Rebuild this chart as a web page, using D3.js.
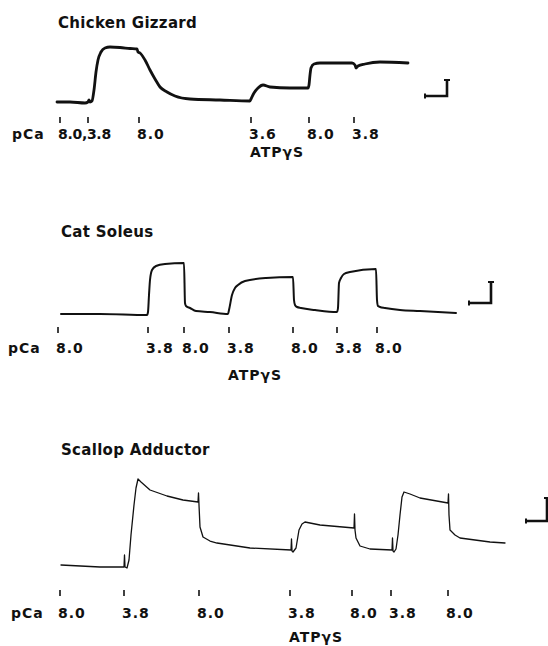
<!DOCTYPE html>
<html>
<head>
    <script type="text/javascript" src="https://cdnjs.cloudflare.com/ajax/libs/d3/7.8.5/d3.min.js"></script>
    <style>
    body {
        padding: 0;
        margin: 0;
        background: #fff;
    }
    #viz {
        width: 548px;
        height: 646px;
    }
    text {
        font-family: "DejaVu Sans", sans-serif;
        fill: #111;
    }
    .title {
        font-weight: bold;
        font-size: 15px;
        letter-spacing: 0.3px;
    }
    .lab {
        font-weight: bold;
        font-size: 14px;
        letter-spacing: 1px;
    }
  </style>
</head>
<body>
    <div id="viz"></div>
    <script type="text/javascript">

    // Tension traces (time and tension in arbitrary units)
    var gizzardTime = [0,13,28,31,32,33,35,37,39,41,44,48,53,63,73,80,81,83,88,93,98,103,110,118,133,163,193,194,197,201,206,213,233,251,252,253,254,257,263,283,295,298,299,301,308,323,351];
    var gizzardTension = [1,1,0,1,3,1,2,13,31,43,51,55,56,55.5,54.5,54,51,50,43,33,24,16,11,7,4,3,2,4,10,15,18,16,15,15,18,28,35,39,40,40,40,38,35,37,39,41,40];

    var soleusTime = [4,43,90,91,92,93,95,99,108,127,128,129,133,139,153,171,172,175,178,181,188,209,236,237,238,240,244,258,280,281,282,284,287,293,319,320,321,323,328,343,363,399];
    var soleusTension = [0,0,-1,2,19,34,44,48,50,51,11,8,6,3,2,0,4,19,26,29,33,36,37,14,9,7,6,4,2,6,31,36,40,42,45,14,8,7,6,4,3,1];

    var scallopTime = [4,43,66,67,67.5,68,70,72,74,77,79,81,84,93,110,126,141,141.5,142,143,146,153,160,193,
      234,234.5,235,236,239,242,245,248,263,297,297.5,298,299,303,313,
      335,335.5,336,337,339,341,343,345,347,353,363,391,
      391.5,392,393,398,403,433,448];
    var scallopTension = [3,1,1,1,13,1,0,8,33,63,80,89,86,78,72,68,66,75,63,41,31,27,25,20,
      18,29,17,16,20,38,44,46,43,40,54,38,30,22,19,
      18,30,17,16,19,33,53,71,76,74,70,65,
      74,53,38,33,30,26,25];

    // Solution changes (time of each change and its label)
    var gizzardTicks = [3,31,82,194,252,297];
    var gizzardLabels = ["8.0,3.8","","8.0","3.6","8.0","3.8"];
    var soleusTicks = [1,91,127,172,236,280,320];
    var soleusLabels = ["8.0","3.8","8.0","3.8","8.0","3.8","8.0"];
    var scallopTicks = [3,67,142,233,295,334,391];
    var scallopLabels = ["8.0","3.8","8.0","3.8","8.0","3.8","8.0"];

    var titles = ["Chicken Gizzard","Cat Soleus","Scallop Adductor"];
    // index of the change that is made with ATPyS
    var atpIndex = [3,3,3];

    // calibration bars: time length, tension length
    var scaleBarTime = [22,22,21];
    var scaleBarTension = [16,21,23];

    var svg = d3.select('#viz')
      .append('svg')
      .attr('width', 548)
      .attr('height', 646)
      .attr('viewBox', '0 0 548 646');

    var x = d3.scaleLinear().domain([0, 491]).range([57, 548]);

    // one entry per panel: where its zero line sits, and how it is drawn
    var panels = [
      {time: gizzardTime, tension: gizzardTension, ticks: gizzardTicks, labels: gizzardLabels,
       base: 103, width: 2.8, titleY: 28, tickY: 117, labY: 139, atpY: 157, pcaX: 12, barT: 368, barF: 7},
      {time: soleusTime, tension: soleusTension, ticks: soleusTicks, labels: soleusLabels,
       base: 314, width: 2.0, titleY: 237, tickY: 327, labY: 353, atpY: 380, pcaX: 8, barT: 412, barF: 11},
      {time: scallopTime, tension: scallopTension, ticks: scallopTicks, labels: scallopLabels,
       base: 568, width: 1.3, titleY: 455, tickY: 590, labY: 618, atpY: 642, pcaX: 11, barT: 469, barF: 47}
    ];

    function draw(p, i) {
      var y = d3.scaleLinear().domain([0, 60]).range([p.base, p.base - 60]);
      var g = svg.append('g');

      g.append('text').attr('class', 'title')
        .attr('x', x(0) + (i === 0 ? 1 : 4))
        .attr('y', p.titleY)
        .text(titles[i]);

      var pts = p.time.map(function(t, k) { return [t, p.tension[k]]; });
      var line = d3.line()
        .x(function(d) { return x(d[0]); })
        .y(function(d) { return y(d[1]); })
        .curve(i === 2 ? d3.curveLinear : d3.curveMonotoneX);

      g.append('path')
        .datum(pts)
        .attr('d', line)
        .attr('fill', 'none')
        .attr('stroke', '#111')
        .attr('stroke-width', p.width)
        .attr('stroke-linejoin', 'round')
        .attr('stroke-linecap', 'round');

      // small marks where the solution was changed
      g.selectAll('line.tick').data(p.ticks).enter().append('line')
        .attr('class', 'tick')
        .attr('x1', x).attr('x2', x)
        .attr('y1', p.tickY).attr('y2', p.tickY + 6)
        .attr('stroke', '#111')
        .attr('stroke-width', 1.6);

      g.append('text').attr('class', 'lab')
        .attr('x', p.pcaX).attr('y', p.labY)
        .text('pCa');

      g.selectAll('text.val').data(p.labels).enter().append('text')
        .attr('class', 'lab val')
        .attr('x', function(d, k) { return x(p.ticks[k]) - 2; })
        .attr('y', p.labY)
        .style('letter-spacing', function(d) { return d.length > 3 ? '-0.3px' : null; })
        .text(function(d) { return d; });

      g.append('text').attr('class', 'lab')
        .attr('x', x(p.ticks[atpIndex[i]]) - 1)
        .attr('y', p.atpY)
        .text('ATP\u03b3S');

      // calibration bar
      var bx0 = x(p.barT), bx1 = x(p.barT + scaleBarTime[i]);
      var by0 = y(p.barF), by1 = y(p.barF + scaleBarTension[i]);
      g.append('path')
        .attr('d', 'M' + bx0 + ',' + by0 + 'H' + bx1 + 'V' + by1)
        .attr('fill', 'none')
        .attr('stroke', '#111')
        .attr('stroke-width', 2.6);
      g.append('line')
        .attr('x1', bx0).attr('x2', bx0)
        .attr('y1', by0 - 2.5).attr('y2', by0 + 2.5)
        .attr('stroke', '#111').attr('stroke-width', 2);
      g.append('line')
        .attr('x1', bx1 - 3).attr('x2', bx1 + 3)
        .attr('y1', by1).attr('y2', by1)
        .attr('stroke', '#111').attr('stroke-width', 2);
    }

    panels.forEach(draw);
    </script>
</body>
</html>
